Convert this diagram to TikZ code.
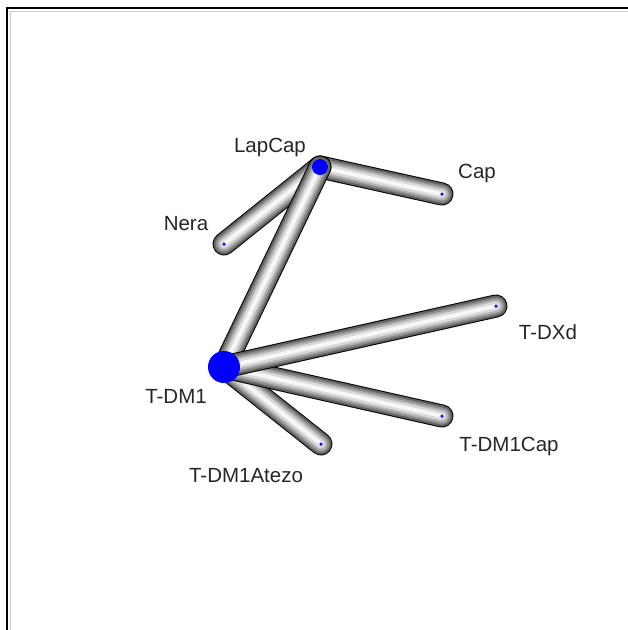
\documentclass[tikz,border=0pt]{standalone}
\usepackage{fontspec}
\setmainfont{Liberation Sans}
\usetikzlibrary{backgrounds}
\tikzstyle{trt} = [circle, fill=blue, draw=none, inner sep=0pt, minimum size=3.5pt]
\tikzstyle{lbl} = [anchor=base, inner sep=0pt, text=black!85, font=\fontsize{20.5}{24}\selectfont]
\tikzstyle{tube} = [line cap=round]

\begin{document}
\begin{tikzpicture}[x=1pt, y=-1pt]
\useasboundingbox (0,0) rectangle (628,630);

% frame
\draw [line width=2pt] (628,8) -- (7,8) -- (7,630);
\draw [black!20, line width=1pt] (628,11) -- (10,11) -- (10,630);

% treatments
\node (lapcap) [trt, minimum size=16pt] at (320,167) {};
\node (cap) [trt] at (442,194) {};
\node (nera) [trt] at (224,244) {};
\node (tdm1) [trt, minimum size=32pt] at (224,367) {};
\node (tdxd) [trt] at (496,306) {};
\node (tdm1cap) [trt] at (442,416) {};
\node (tdm1atezo) [trt] at (321,444) {};

% labels
\node (lapcap-l) [lbl] at (270,152) {LapCap};
\node (cap-l) [lbl] at (477,178) {Cap};
\node (nera-l) [lbl] at (186,230) {Nera};
\node (tdm1-l) [lbl] at (176,403) {T-DM1};
\node (tdxd-l) [lbl] at (548,339) {T-DXd};
\node (tdm1cap-l) [lbl] at (509,451) {T-DM1Cap};
\node (tdm1atezo-l) [lbl] at (246,482) {T-DM1Atezo};

% comparisons
\begin{scope}[on background layer]
\foreach \a/\b in {lapcap/cap, lapcap/nera, lapcap/tdm1, tdm1/tdm1atezo, tdm1/tdm1cap, tdm1/tdxd} {
  \foreach \w/\c in {23/black, 21/black!62, 17/black!45, 13/black!30, 9/black!15, 4/black!3}
    \draw [tube, line width=\w pt, draw=\c] (\a.center) -- (\b.center);
}
\end{scope}

\end{tikzpicture}
\end{document}
